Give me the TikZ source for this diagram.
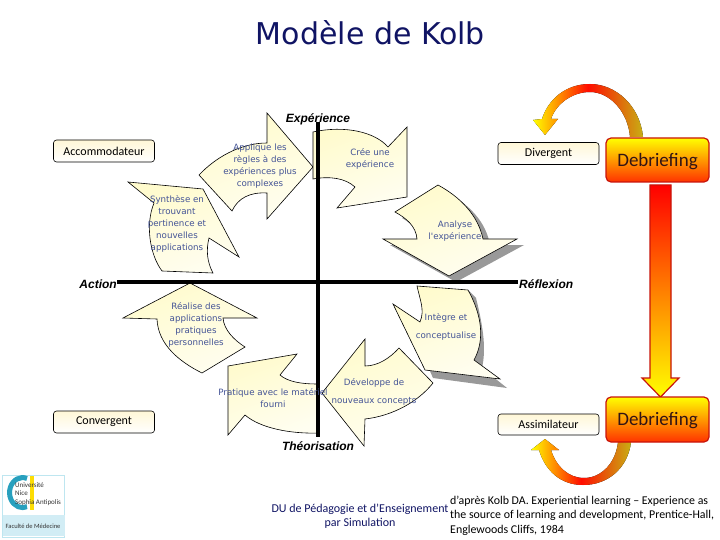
\documentclass[tikz,border=0pt]{standalone}
\usepackage{fontspec}
\usepackage{tikz}
\usetikzlibrary{arrows.meta, positioning, calc}
\setmainfont{Carlito}
\newfontfamily\verdfont{DejaVu Sans}
\newfontfamily\helvfont{Liberation Sans}
\definecolor{navytitle}{RGB}{16,20,100}
\definecolor{cyctext}{RGB}{68,84,150}
\definecolor{paleyellow}{RGB}{255,251,205}
\definecolor{boxyellow}{RGB}{255,247,215}
\definecolor{debred}{RGB}{200,20,10}
\definecolor{debfill}{RGB}{255,50,0}
\definecolor{debtext}{RGB}{50,20,20}
\definecolor{olivebase}{RGB}{200,175,20}
\definecolor{logoteal}{RGB}{40,160,190}
\definecolor{logopale}{RGB}{190,230,240}

\begin{document}
\begin{tikzpicture}[
    x=1pt, y=-1pt,
    cyclearrow/.style={draw=black, line width=0.6pt, left color=paleyellow, right color=paleyellow!30!white, shading angle=20},
    shadowarrow/.style={fill=gray!80, draw=none},
    cycletext/.style={font=\verdfont\fontsize{8.7}{12}\selectfont, text=cyctext, align=center, inner sep=0pt},
    axislabel/.style={font=\helvfont\bfseries\itshape\fontsize{12}{14}\selectfont, inner sep=0pt},
    axisline/.style={draw=black, line width=4pt},
    stylebox/.style={draw=black, rounded corners=3pt, line width=0.6pt, top color=boxyellow, bottom color=white, font=\fontsize{12}{14}\selectfont, inner sep=0pt},
    debriefbox/.style={draw=debred, line width=1.2pt, rounded corners=5pt, top color=yellow, bottom color=debfill, text=debtext, font=\fontsize{19}{22}\selectfont, inner sep=0pt},
    loopshade/.style={left color=yellow, right color=olivebase, middle color=red!90!orange}
]
    \useasboundingbox (0,0) rectangle (720,540);

    \node[font=\verdfont\fontsize{30}{34}\selectfont, text=navytitle, inner sep=0pt] (title) at (370.5,33) {Modèle de Kolb};

    % shadows
    \fill[shadowarrow] (445,191) .. controls (470,205) and (486,222) .. (490,245) -- (524,245) -- (456,282) -- (390,245) -- (424,245) .. controls (422,232) and (412,224) .. (402,218) -- cycle;
    \fill[shadowarrow] (401,312) -- (428,328) .. controls (432,345) and (430,352) .. (426,362) -- (433,378) -- (507,388) -- (482,368) .. controls (486,350) and (484,330) .. (476,298) -- (468,290) -- (474,360) -- (500,379) -- (425,370) -- (393,304) -- cycle;

    % cycle arrows
    \path[cyclearrow] (313,167) -- (267,113) -- (267,143) .. controls (240,143) and (215,158) .. (199,175) -- (232,211) .. controls (238,198) and (250,192) .. (267,193) -- (267,219) -- cycle;
    \path[cyclearrow] (128,182) -- (203,189) -- (239,257) -- (209,238) .. controls (206,250) and (207,262) .. (213,273) -- (162,271) .. controls (150,255) and (145,225) .. (154,203) -- cycle;
    \path[cyclearrow] (313,132) .. controls (345,125) and (375,132) .. (388,147) -- (407,127) -- (407,197) -- (337,208) -- (355,187) .. controls (345,178) and (330,176) .. (313,179) -- cycle;
    \path[cyclearrow] (438,185) .. controls (460,197) and (478,215) .. (483,239) -- (517,239) -- (449,276) -- (383,239) -- (417,239) .. controls (416,226) and (406,218) .. (395,212) -- cycle;
    \path[cyclearrow] (417,286) -- (468,290) .. controls (482,315) and (485,340) .. (474,360) -- (500,379) -- (425,370) -- (393,304) -- (420,322) .. controls (425,310) and (420,300) .. (417,286) -- cycle;
    \path[cyclearrow] (322,393) -- (365,339) -- (365,366) .. controls (378,366) and (390,358) .. (399,348) -- (433,383) .. controls (418,402) and (392,416) .. (365,419) -- (364,446) -- cycle;
    \path[cyclearrow] (228,366) -- (297,354) -- (280,375) .. controls (288,382) and (302,384) .. (317,384) -- (319,433) .. controls (290,434) and (260,428) .. (245,415) -- (228,435) -- cycle;
    \path[cyclearrow] (190,283) -- (257,318) -- (223,318) .. controls (224,330) and (234,340) .. (245,347) -- (202,373) .. controls (180,362) and (158,345) .. (157,319) -- (123,318) -- cycle;

    % axes
    \coordinate (axisleft) at (117,282);
    \coordinate (axisright) at (518,282);
    \coordinate (axistop) at (318,122);
    \coordinate (axisbottom) at (318,437);
    \draw[axisline] (axisleft) -- (axisright);
    \draw[axisline] (axistop) -- (axisbottom);

    \node[axislabel] (experience) at (318,119) {Expérience};
    \node[axislabel, anchor=east] (action) at (117,284) {Action};
    \node[axislabel, anchor=west] (reflexion) at (519,284) {Réflexion};
    \node[axislabel] (theorisation) at (318,446) {Théorisation};

    \node[cycletext] (applique) at (260,166.5) {Applique les\\règles à des\\expériences plus\\complexes};
    \node[cycletext] (synthese) at (177,224) {Synthèse en\\trouvant\\pertinence et\\nouvelles\\applications};
    \node[cycletext] (cree) at (370,159) {Crée une\\expérience};
    \node[cycletext] (analyse) at (455,231) {Analyse\\l'expérience};
    \node[cycletext, font=\verdfont\fontsize{8.7}{17.5}\selectfont] (integre) at (446,327) {Intègre et\\conceptualise};
    \node[cycletext, font=\verdfont\fontsize{8.7}{18}\selectfont] (developpe) at (374,392) {Développe de\\nouveaux concepts};
    \node[cycletext] (pratique) at (273,398) {Pratique avec le matériel\\fourni};
    \node[cycletext] (realise) at (196,325) {Réalise des\\applications\\pratiques\\personnelles};

    % boxes
    \node[stylebox, minimum width=101pt, minimum height=22pt] (accommodateur) at (104,151) {Accommodateur};
    \node[stylebox, minimum width=101pt, minimum height=22pt] (convergent) at (104,422) {Convergent};
    \node[stylebox, minimum width=101pt, minimum height=22pt] (divergent) at (548.5,153.5) {Divergent};
    \node[stylebox, minimum width=101pt, minimum height=21pt] (assimilateur) at (548.5,424.5) {Assimilateur};

    % debriefing
    \fill[loopshade] (643,137) .. controls (640,105) and (615,84) .. (590,84) .. controls (565,84) and (548,100) .. (542,119) -- (533,120) -- (545,135) -- (558,119) -- (551,119) .. controls (556,104) and (572,92) .. (590,92) .. controls (610,92) and (628,112) .. (630,137) -- cycle;
    \fill[loopshade] (631,442) .. controls (628,468) and (608,485) .. (583,485) .. controls (560,485) and (545,470) .. (539,450) -- (531,450) -- (545,439) -- (559,450) -- (551,450) .. controls (556,466) and (568,478) .. (584,478) .. controls (602,478) and (616,462) .. (618,442) -- cycle;

    \path[draw=debred, line width=1.2pt, top color=red, bottom color=yellow] (650,185) -- (671,185) -- (671,378) -- (679,378) -- (660.5,397) -- (642,378) -- (650,378) -- cycle;

    \node[debriefbox, minimum width=103pt, minimum height=44pt] (debrieftop) at (657.5,160) {};
    \node[debriefbox, minimum width=103pt, minimum height=45pt] (debriefbottom) at (657.5,419.5) {};
    \node[font=\fontsize{19}{22}\selectfont, text=debtext, inner sep=0pt] (debrieftoptext) at (657.5,161.5) {Debriefing};
    \node[font=\fontsize{19}{22}\selectfont, text=debtext, inner sep=0pt] (debriefbottomtext) at (657.5,421) {Debriefing};

    % footer
    \node[font=\fontsize{12}{14.5}\selectfont, text=navytitle, align=center, inner sep=0pt] (dutext) at (360,516) {DU de Pédagogie et d'Enseignement\\par Simulation};
    \node[font=\fontsize{11.9}{14.6}\selectfont, align=left, anchor=west, inner sep=0pt] (source) at (450,515.5) {d'après Kolb DA. Experiential learning – Experience as\\the source of learning and development, Prentice-Hall,\\Englewoods Cliffs, 1984};

    % logo
    \node[draw=logopale, line width=0.6pt, minimum width=62pt, minimum height=62pt, inner sep=0pt] (logo) at (33.5,506) {};
    \fill[logopale!70] (3,515) rectangle (65,536);
    \draw[logoteal, line width=5pt] (27,478.5) arc[start angle=-70, end angle=-290, x radius=13, y radius=15];
    \fill[yellow!80!orange] (30,476) rectangle (34,510);
    \node[font=\fontsize{7}{8.5}\selectfont, align=left, anchor=west, inner sep=0pt, text=black!80] (logotext) at (15,494) {Université\\Nice\\Sophia Antipolis};
    \node[font=\fontsize{6.5}{7}\selectfont, inner sep=0pt, text=black!80] (logofac) at (33,526) {Faculté de Médecine};
\end{tikzpicture}
\end{document}
